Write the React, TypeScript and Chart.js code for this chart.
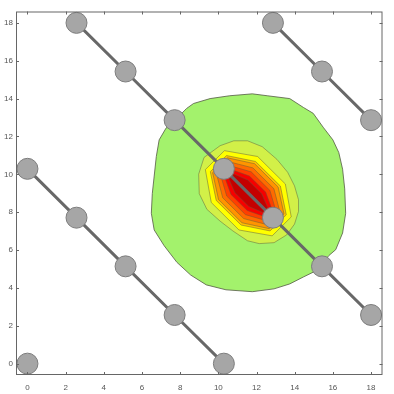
import React, { useEffect, useRef } from "react";
import { Chart, registerables } from "chart.js";

Chart.register(...registerables);

// ---- axes ----
const X_TICKS = [0, 2, 4, 6, 8, 10, 12, 14, 16, 18];
const Y_TICKS = [0, 2, 4, 6, 8, 10, 12, 14, 16, 18];
const X_RANGE = [-0.6, 18.6];
const Y_RANGE = [-0.6, 18.6];

// ---- diagonal marker lines ----
const LINE_A_X = [0];
const LINE_A_Y = [0];
const LINE_B_X = [0, 2.57, 5.14, 7.71, 10.29];
const LINE_B_Y = [10.29, 7.71, 5.14, 2.57, 0];
const LINE_C_X = [2.57, 5.14, 7.71, 10.29, 12.86, 15.43, 18];
const LINE_C_Y = [18, 15.43, 12.86, 10.29, 7.71, 5.14, 2.57];
const LINE_D_X = [12.86, 15.43, 18];
const LINE_D_Y = [18, 15.43, 12.86];

// ---- filled contour levels (outer to inner) ----
const CONTOUR_1: [number, number][] = [
  [7.77, 12.91], [8.34, 13.48], [8.7, 13.74], [9.57, 14.0], [10.6, 14.15], [11.78, 14.25],
  [12.56, 14.15], [13.74, 14.0], [14.46, 13.53], [14.97, 13.22], [15.49, 12.49], [16.0, 11.82],
  [16.31, 11.15], [16.51, 10.27], [16.62, 9.23], [16.67, 7.94], [16.51, 6.9], [16.15, 6.02],
  [15.79, 5.71], [15.38, 5.2], [14.97, 4.83], [14.46, 4.58], [13.74, 4.21], [12.92, 3.95],
  [11.78, 3.8], [10.4, 3.9], [9.37, 4.16], [8.55, 4.68], [7.83, 5.35], [7.16, 6.23],
  [6.64, 7.06], [6.49, 7.94], [6.54, 8.98], [6.64, 9.91], [6.75, 10.94], [6.9, 11.82], [7.26, 12.44],
];
const CONTOUR_2: [number, number][] = [
  [10.09, 11.51], [10.81, 11.77], [11.53, 11.77], [12.3, 11.46], [13.07, 10.79], [13.63, 10.11],
  [13.99, 9.39], [14.2, 8.66], [14.2, 8.04], [13.99, 7.37], [13.58, 6.8], [12.92, 6.39],
  [12.14, 6.34], [11.53, 6.49], [10.76, 7.01], [10.09, 7.53], [9.4, 8.15], [9.0, 8.98],
  [8.97, 10.01], [9.25, 10.89],
];
const CONTOUR_3: [number, number][] = [
  [10.32, 11.25], [12.06, 10.94], [13.51, 9.49], [13.82, 7.75], [12.82, 6.75], [11.08, 7.06], [9.63, 8.51], [9.32, 10.25],
];
const CONTOUR_4: [number, number][] = [
  [10.43, 10.99], [11.95, 10.68], [13.25, 9.38], [13.56, 7.86], [12.71, 7.01], [11.19, 7.32], [9.89, 8.62], [9.58, 10.14],
];
const CONTOUR_5: [number, number][] = [
  [10.48, 10.87], [11.9, 10.56], [13.13, 9.33], [13.44, 7.91], [12.66, 7.13], [11.24, 7.44], [10.01, 8.67], [9.7, 10.09],
];
const CONTOUR_6: [number, number][] = [
  [10.57, 10.66], [11.81, 10.34], [12.91, 9.24], [13.23, 8.0], [12.57, 7.34], [11.33, 7.66], [10.23, 8.76], [9.91, 10.0],
];
const CONTOUR_7: [number, number][] = [
  [10.66, 10.44], [11.72, 10.13], [12.7, 9.15], [13.01, 8.09], [12.48, 7.56], [11.42, 7.87], [10.44, 8.85], [10.13, 9.91],
];
const CONTOUR_8: [number, number][] = [
  [10.75, 10.23], [11.63, 9.91], [12.48, 9.06], [12.8, 8.18], [12.4, 7.77], [11.51, 8.09], [10.66, 8.94], [10.34, 9.83],
];
const CONTOUR_9: [number, number][] = [
  [10.83, 10.01], [11.54, 9.7], [12.27, 8.97], [12.58, 8.26], [12.31, 7.99], [11.6, 8.3], [10.87, 9.03], [10.56, 9.74],
];
const CONTOURS = [CONTOUR_1, CONTOUR_2, CONTOUR_3, CONTOUR_4, CONTOUR_5, CONTOUR_6, CONTOUR_7, CONTOUR_8, CONTOUR_9];
const CONTOUR_COLORS = [
  "#a3f26c", "#d2f048", "#ffff00", "#ffbe00", "#ff9400", "#ff6a00", "#ff3e00", "#f60000", "#c40000",
];

const FONT = "'Liberation Sans', Arial, sans-serif";

const contourFill = {
  id: "contourFill",
  beforeDatasetDraw(chart: any, args: any) {
    const ds = chart.data.datasets[args.index];
    if (!ds.contourColor) return;
    const pts = args.meta.data;
    const { ctx, chartArea } = chart;
    ctx.save();
    ctx.beginPath();
    ctx.rect(chartArea.left, chartArea.top, chartArea.right - chartArea.left, chartArea.bottom - chartArea.top);
    ctx.clip();
    ctx.beginPath();
    pts.forEach((p: any, i: number) => (i === 0 ? ctx.moveTo(p.x, p.y) : ctx.lineTo(p.x, p.y)));
    ctx.closePath();
    ctx.fillStyle = ds.contourColor;
    ctx.fill();
    ctx.lineWidth = ds.contourEdgeWidth;
    ctx.lineJoin = "round";
    ctx.strokeStyle = ds.contourEdge;
    ctx.stroke();
    ctx.restore();
  },
};

const frame = {
  id: "frame",
  afterDatasetsDraw(chart: any) {
    const { ctx, chartArea, scales } = chart;
    const { left, right, top, bottom } = chartArea;
    ctx.save();
    ctx.strokeStyle = "#666";
    ctx.lineWidth = 1;
    ctx.strokeRect(left + 0.5, top + 0.5, right - left - 1, bottom - top - 1);
    ctx.beginPath();
    X_TICKS.forEach((v) => {
      const px = Math.round(scales.x.getPixelForValue(v)) + 0.5;
      ctx.moveTo(px, bottom);
      ctx.lineTo(px, bottom - 3);
      ctx.moveTo(px, top);
      ctx.lineTo(px, top + 3);
    });
    Y_TICKS.forEach((v) => {
      const py = Math.round(scales.y.getPixelForValue(v)) + 0.5;
      ctx.moveTo(left, py);
      ctx.lineTo(left + 3, py);
      ctx.moveTo(right, py);
      ctx.lineTo(right - 3, py);
    });
    ctx.stroke();
    ctx.restore();
  },
};

function lineDataset(xs: number[], ys: number[]) {
  return {
    data: xs.map((x, i) => ({ x, y: ys[i] })),
    showLine: true,
    borderColor: "#686868",
    borderWidth: 3,
    pointRadius: 10.5,
    pointBackgroundColor: "#a6a6a6",
    pointBorderColor: "#7c7c7c",
    pointBorderWidth: 1,
    order: 0,
    clip: false,
  };
}

export default function App() {
  const ref = useRef<HTMLCanvasElement>(null);
  useEffect(() => {
    document.body.style.margin = "0";
    const contourSets = CONTOURS.map((poly, i) => ({
      data: poly.map(([x, y]) => ({ x, y })),
      showLine: false,
      pointRadius: 0,
      contourColor: CONTOUR_COLORS[i],
      contourEdge: i === 0 ? "rgba(85,90,70,0.8)" : "rgba(95,90,60,0.6)",
      contourEdgeWidth: i === 0 ? 1 : 0.8,
      order: 20 - i,
    }));
    const chart = new Chart(ref.current as HTMLCanvasElement, {
      type: "scatter",
      data: {
        datasets: [
          lineDataset(LINE_A_X, LINE_A_Y),
          lineDataset(LINE_B_X, LINE_B_Y),
          lineDataset(LINE_C_X, LINE_C_Y),
          lineDataset(LINE_D_X, LINE_D_Y),
          ...contourSets,
        ] as any,
      },
      options: {
        animation: false,
        responsive: false,
        devicePixelRatio: 1,
        layout: { padding: { top: 4, right: 6, left: 0, bottom: 0 } },
        plugins: { legend: { display: false }, tooltip: { enabled: false } },
        events: [],
        scales: {
          x: {
            type: "linear",
            min: X_RANGE[0],
            max: X_RANGE[1],
            afterBuildTicks: (s: any) => {
              s.ticks = X_TICKS.map((v) => ({ value: v }));
            },
            afterFit: (s: any) => {
              s.height = 19;
            },
            grid: { display: false, drawTicks: false, tickLength: 0 },
            border: { display: false },
            ticks: { font: { size: 8, family: FONT }, color: "#555", padding: 8, maxRotation: 0, autoSkip: false },
          },
          y: {
            type: "linear",
            min: Y_RANGE[0],
            max: Y_RANGE[1],
            afterBuildTicks: (s: any) => {
              s.ticks = Y_TICKS.map((v) => ({ value: v }));
            },
            afterFit: (s: any) => {
              s.width = 16;
            },
            grid: { display: false, drawTicks: false, tickLength: 0 },
            border: { display: false },
            ticks: { font: { size: 8, family: FONT }, color: "#555", padding: 3, autoSkip: false },
          },
        },
      } as any,
      plugins: [contourFill, frame],
    });
    return () => chart.destroy();
  }, []);
  return (
    <div style={{ width: 394, height: 394 }}>
      <canvas ref={ref} width={394} height={394} style={{ display: "block" }} />
    </div>
  );
}
